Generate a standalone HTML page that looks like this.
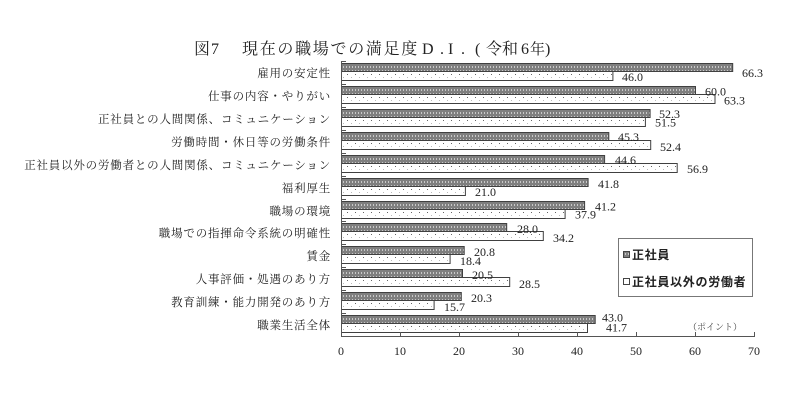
<!DOCTYPE html>
<html><head><meta charset="utf-8">
<style>
html,body{margin:0;padding:0;background:#fff;}
svg{display:block;}
.lab{font-family:"Liberation Serif","Noto Serif CJK SC",serif;font-size:11.5px;letter-spacing:0.8px;fill:#222;}
.num{font-family:"Liberation Serif","Noto Serif CJK SC",serif;font-size:12px;fill:#222;}
.tt{font-family:"Liberation Serif","Noto Serif CJK SC",serif;font-size:16px;fill:#222;}
.lg{font-family:"Liberation Sans","Noto Sans CJK JP",sans-serif;font-size:12px;font-weight:bold;letter-spacing:0.7px;fill:#222;}
</style></head>
<body>
<svg width="800" height="400" viewBox="0 0 800 400" xmlns="http://www.w3.org/2000/svg">
<defs>
<pattern id="pd" patternUnits="userSpaceOnUse" width="3" height="4">
<rect width="3" height="4" fill="#7f7f7f"/>
<rect x="1" y="1" width="1" height="2" fill="#c8c8c8"/>
</pattern>
<pattern id="pl" patternUnits="userSpaceOnUse" width="8" height="9">
<rect width="8" height="9" fill="#fff"/>
<rect x="3" y="4" width="1" height="1" fill="#666"/>
<rect x="7" y="7" width="1" height="1" fill="#bbb"/>
</pattern>
</defs>
<rect width="800" height="400" fill="#fff"/>

<!-- title -->
<text class="tt" x="194" y="54">図</text>
<text class="tt" x="211" y="54">7</text>
<text class="tt" x="242" y="54" style="letter-spacing:1.7px">現在の職場での満足度</text>
<text class="tt" x="422" y="54">D</text>
<text class="tt" x="440" y="54">.</text>
<text class="tt" x="448" y="54">I</text>
<text class="tt" x="461" y="54">.</text>
<text class="tt" x="475" y="54">(</text>
<text class="tt" x="486" y="54">令和</text>
<text class="tt" x="521" y="54">6</text>
<text class="tt" x="530" y="54" style="font-size:15px">年</text>
<text class="tt" x="545" y="54">)</text>

<!-- rows -->
<g transform="translate(0,61)">
<rect x="341.5" y="2.5" width="391.2" height="8" fill="url(#pd)" stroke="#404040"/>
<rect x="341.5" y="10.5" width="271.4" height="9" fill="url(#pl)" stroke="#404040"/>
<text class="lab" x="331" y="16" text-anchor="end">雇用の安定性</text>
<text class="num" x="742" y="16">66.3</text>
<text class="num" x="622" y="20">46.0</text>
</g>
<g transform="translate(0,84)">
<rect x="341.5" y="2.5" width="354" height="8" fill="url(#pd)" stroke="#404040"/>
<rect x="341.5" y="10.5" width="373.5" height="9" fill="url(#pl)" stroke="#404040"/>
<text class="lab" x="331" y="16" text-anchor="end">仕事の内容・やりがい</text>
<text class="num" x="705" y="11.5">60.0</text>
<text class="num" x="724" y="20.5">63.3</text>
</g>
<g transform="translate(0,107)">
<rect x="341.5" y="2.5" width="308.6" height="8" fill="url(#pd)" stroke="#404040"/>
<rect x="341.5" y="10.5" width="303.9" height="9" fill="url(#pl)" stroke="#404040"/>
<text class="lab" x="331" y="16" text-anchor="end">正社員との人間関係、コミュニケーション</text>
<text class="num" x="659" y="11">52.3</text>
<text class="num" x="655" y="19.5">51.5</text>
</g>
<g transform="translate(0,130)">
<rect x="341.5" y="2.5" width="267.3" height="8" fill="url(#pd)" stroke="#404040"/>
<rect x="341.5" y="10.5" width="309.2" height="9" fill="url(#pl)" stroke="#404040"/>
<text class="lab" x="331" y="16" text-anchor="end">労働時間・休日等の労働条件</text>
<text class="num" x="618" y="11">45.3</text>
<text class="num" x="660" y="21">52.4</text>
</g>
<g transform="translate(0,153)">
<rect x="341.5" y="2.5" width="263.1" height="8" fill="url(#pd)" stroke="#404040"/>
<rect x="341.5" y="10.5" width="335.7" height="9" fill="url(#pl)" stroke="#404040"/>
<text class="lab" x="331" y="16" text-anchor="end">正社員以外の労働者との人間関係、コミュニケーション</text>
<text class="num" x="615" y="11">44.6</text>
<text class="num" x="687" y="20">56.9</text>
</g>
<g transform="translate(0,176)">
<rect x="341.5" y="2.5" width="246.6" height="8" fill="url(#pd)" stroke="#404040"/>
<rect x="341.5" y="10.5" width="123.9" height="9" fill="url(#pl)" stroke="#404040"/>
<text class="lab" x="331" y="16" text-anchor="end">福利厚生</text>
<text class="num" x="598" y="12">41.8</text>
<text class="num" x="475" y="20">21.0</text>
</g>
<g transform="translate(0,199)">
<rect x="341.5" y="2.5" width="243.1" height="8" fill="url(#pd)" stroke="#404040"/>
<rect x="341.5" y="10.5" width="223.6" height="9" fill="url(#pl)" stroke="#404040"/>
<text class="lab" x="331" y="16" text-anchor="end">職場の環境</text>
<text class="num" x="595" y="11.5">41.2</text>
<text class="num" x="575" y="19.5">37.9</text>
</g>
<g transform="translate(0,221)">
<rect x="341.5" y="2.5" width="165.2" height="8" fill="url(#pd)" stroke="#404040"/>
<rect x="341.5" y="10.5" width="201.8" height="9" fill="url(#pl)" stroke="#404040"/>
<text class="lab" x="331" y="16" text-anchor="end">職場での指揮命令系統の明確性</text>
<text class="num" x="517" y="12">28.0</text>
<text class="num" x="553" y="21">34.2</text>
</g>
<g transform="translate(0,244)">
<rect x="341.5" y="2.5" width="122.7" height="8" fill="url(#pd)" stroke="#404040"/>
<rect x="341.5" y="10.5" width="108.6" height="9" fill="url(#pl)" stroke="#404040"/>
<text class="lab" x="331" y="16" text-anchor="end">賃金</text>
<text class="num" x="474" y="12">20.8</text>
<text class="num" x="460" y="21">18.4</text>
</g>
<g transform="translate(0,267)">
<rect x="341.5" y="2.5" width="121" height="8" fill="url(#pd)" stroke="#404040"/>
<rect x="341.5" y="10.5" width="168.2" height="9" fill="url(#pl)" stroke="#404040"/>
<text class="lab" x="331" y="16" text-anchor="end">人事評価・処遇のあり方</text>
<text class="num" x="472" y="12">20.5</text>
<text class="num" x="519" y="21">28.5</text>
</g>
<g transform="translate(0,290)">
<rect x="341.5" y="2.5" width="119.8" height="8" fill="url(#pd)" stroke="#404040"/>
<rect x="341.5" y="10.5" width="92.6" height="9" fill="url(#pl)" stroke="#404040"/>
<text class="lab" x="331" y="16" text-anchor="end">教育訓練・能力開発のあり方</text>
<text class="num" x="471" y="12">20.3</text>
<text class="num" x="444" y="21">15.7</text>
</g>
<g transform="translate(0,313)">
<rect x="341.5" y="2.5" width="253.7" height="8" fill="url(#pd)" stroke="#404040"/>
<rect x="341.5" y="10.5" width="246" height="9" fill="url(#pl)" stroke="#404040"/>
<text class="lab" x="331" y="16" text-anchor="end">職業生活全体</text>
<text class="num" x="602" y="8.5">43.0</text>
<text class="num" x="606" y="18.5">41.7</text>
</g>

<!-- axes -->
<g stroke="#555" stroke-width="1">
<line x1="341.5" y1="61" x2="341.5" y2="336.5"/>
<line x1="341" y1="336.5" x2="755" y2="336.5"/>
<line x1="341" y1="61.5" x2="346" y2="61.5"/>
<line x1="341" y1="84.5" x2="346" y2="84.5"/>
<line x1="341" y1="107.5" x2="346" y2="107.5"/>
<line x1="341" y1="130.5" x2="346" y2="130.5"/>
<line x1="341" y1="153.5" x2="346" y2="153.5"/>
<line x1="341" y1="176.5" x2="346" y2="176.5"/>
<line x1="341" y1="199.5" x2="346" y2="199.5"/>
<line x1="341" y1="221.5" x2="346" y2="221.5"/>
<line x1="341" y1="244.5" x2="346" y2="244.5"/>
<line x1="341" y1="267.5" x2="346" y2="267.5"/>
<line x1="341" y1="290.5" x2="346" y2="290.5"/>
<line x1="341" y1="313.5" x2="346" y2="313.5"/>
<line x1="400.5" y1="332" x2="400.5" y2="336"/>
<line x1="459.5" y1="332" x2="459.5" y2="336"/>
<line x1="518.5" y1="332" x2="518.5" y2="336"/>
<line x1="577.5" y1="332" x2="577.5" y2="336"/>
<line x1="636.5" y1="332" x2="636.5" y2="336"/>
<line x1="695.5" y1="332" x2="695.5" y2="336"/>
<line x1="754.5" y1="332" x2="754.5" y2="336"/>
</g>
<g class="num" text-anchor="middle">
<text x="341" y="355">0</text>
<text x="400" y="355">10</text>
<text x="459" y="355">20</text>
<text x="518" y="355">30</text>
<text x="577" y="355">40</text>
<text x="636" y="355">50</text>
<text x="695" y="355">60</text>
<text x="754" y="355">70</text>
</g>
<text x="688" y="330" style="font-family:'Liberation Serif','Noto Serif CJK SC',serif;font-size:9px;fill:#444">（ポイント）</text>

<!-- legend -->
<rect x="618.5" y="238.5" width="134" height="58" fill="#fff" stroke="#777"/>
<rect x="623.5" y="251.5" width="6" height="6" fill="url(#pd)" stroke="#444"/>
<text class="lg" x="632" y="259">正社員</text>
<rect x="623.5" y="278.5" width="6" height="6" fill="#fff" stroke="#444"/>
<text class="lg" x="632" y="286">正社員以外の労働者</text>
</svg>
</body></html>
